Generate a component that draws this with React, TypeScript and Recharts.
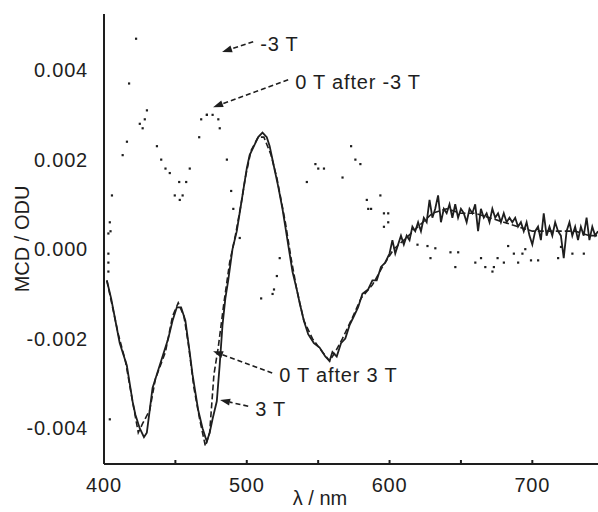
import React from "react";
import { ComposedChart, Line, Scatter, XAxis, YAxis, ReferenceLine } from "recharts";

// wavelength (nm), MCD (ODU)
const threeT: [number, number][] = [
  [402, -0.0007], [405, -0.0011], [408, -0.0016], [411, -0.0021], [414, -0.0024], [416, -0.0026],
  [418, -0.003], [420, -0.0034], [422, -0.0037], [425, -0.004], [428, -0.0042], [430, -0.0041],
  [432, -0.0036], [434, -0.0031], [437, -0.0028], [441, -0.0024], [445, -0.002], [448, -0.0016],
  [451, -0.0013], [454, -0.0013], [457, -0.0016], [460, -0.0023], [462, -0.0028], [464, -0.0032],
  [466, -0.0036], [469, -0.004], [472, -0.0043], [474, -0.0041], [476, -0.0038], [479, -0.0034],
  [481, -0.0026], [483, -0.0017], [485, -0.0011], [487, -0.0007], [490, 0.0], [493, 0.0004],
  [495, 0.0008], [497, 0.0012], [500, 0.0018], [502, 0.0021], [505, 0.0023], [508, 0.0025],
  [511, 0.0026], [514, 0.0025], [516, 0.0023], [518, 0.002], [520, 0.0017], [522, 0.0014],
  [525, 0.0009], [527, 0.0005], [529, 0.0001], [532, -0.0005], [535, -0.0009], [537, -0.0012],
  [540, -0.0016], [543, -0.0019], [547, -0.0021], [551, -0.0022], [555, -0.0024], [558, -0.0025],
  [560, -0.0023], [563, -0.0024], [566, -0.0021], [569, -0.002], [572, -0.0017], [575, -0.0015],
  [578, -0.0013], [581, -0.001], [585, -0.0009], [588, -0.0007], [591, -0.0007], [594, -0.0004],
  [597, -0.0003], [600, -0.0001], [602, 0.0002], [604, -0.0001], [606, 0.0001], [608, 0.0003],
  [610, 0.0001], [612, 0.0003], [614, 0.0002], [616, 0.0005], [618, 0.0004], [620, 0.0006],
  [622, 0.0004], [624, 0.0007], [626, 0.0006], [628, 0.0011], [630, 0.0007], [632, 0.0009],
  [634, 0.0012], [636, 0.0006], [638, 0.0009], [640, 0.0008], [642, 0.001], [644, 0.0007],
  [646, 0.001], [648, 0.0007], [650, 0.0009], [652, 0.0008], [654, 0.0006], [656, 0.0009],
  [658, 0.0008], [660, 0.001], [662, 0.0004], [664, 0.0009], [666, 0.0007], [668, 0.0008],
  [670, 0.0006], [672, 0.0009], [674, 0.0007], [676, 0.0008], [678, 0.0006], [680, 0.0008],
  [682, 0.0006], [684, 0.0007], [686, 0.0006], [688, 0.0007], [690, 0.0005], [692, 0.0006],
  [694, 0.0004], [696, 0.0006], [698, 0.0003], [700, 0.0001], [702, 0.0004], [704, 0.0005],
  [706, 0.0002], [708, 0.0008], [710, 0.0003], [712, 0.0005], [714, 0.0003], [716, 0.0006],
  [718, 0.0004], [720, 0.0003], [722, -0.0002], [724, 0.0004], [726, 0.0006], [728, 0.0003],
  [730, 0.0005], [732, 0.0002], [734, 0.0005], [736, 0.0003], [738, 0.0007], [740, 0.0002],
  [742, 0.0005], [744, 0.0003], [746, 0.0004],
];

const zeroAfter3T: [number, number][] = [
  [402, -0.0007], [406, -0.0013], [410, -0.0019], [415, -0.0025], [420, -0.0034], [424, -0.0041],
  [427, -0.0039], [432, -0.0036], [436, -0.0029], [443, -0.0023], [448, -0.0015], [452, -0.0012],
  [456, -0.0015], [459, -0.0021], [463, -0.0031], [467, -0.0038], [471, -0.0044], [474, -0.0041],
  [477, -0.0028], [480, -0.0022], [484, -0.0012], [488, -0.0003], [492, 0.0003], [496, 0.001],
  [499, 0.0016], [503, 0.0022], [508, 0.0025], [512, 0.0025], [517, 0.0021], [521, 0.0016],
  [524, 0.0011], [527, 0.0006], [531, -0.0002], [535, -0.0009], [540, -0.0016], [546, -0.002],
  [553, -0.0023], [558, -0.0025], [562, -0.0023], [567, -0.002], [573, -0.0016], [580, -0.0011],
  [588, -0.0008], [595, -0.0004], [603, 0.0], [610, 0.0002], [620, 0.0005], [630, 0.0008],
  [640, 0.0009], [650, 0.0008], [660, 0.0008], [670, 0.0007], [680, 0.0006], [690, 0.0005],
  [700, 0.0004], [710, 0.0004], [720, 0.0004], [730, 0.0004], [740, 0.0003], [746, 0.0003],
];

const minus3T: [number, number][] = [
  [405.5, 0.0012], [417.5, 0.0037], [422.4, 0.0047], [430, 0.0031], [437, 0.0023], [443, 0.0018],
  [452.6, 0.0015], [460, 0.0018], [466.6, 0.0025], [472, 0.003], [481, 0.0027], [489, 0.0013],
  [542, 0.0015], [548, 0.0019], [550, 0.0018], [554, 0.0018], [573, 0.0023], [576, 0.002],
  [579.5, 0.0019], [593.5, 0.0012],
];

const zeroAfterMinus3T: [number, number][] = [
  [403, 0.00035], [403, -0.0001], [403, -0.0003], [403, -0.0005], [404, 0.0006], [404.5, 0.0004],
  [404, -0.0038], [413, 0.0021], [416, 0.0024], [425, 0.0028], [428.5, 0.0029], [427, 0.0027],
  [440, 0.002], [446, 0.0017], [449.5, 0.0012], [453, 0.0011], [455, 0.0012], [457.5, 0.0015],
  [468, 0.0029], [472, 0.003], [476, 0.003], [480, 0.0029], [486, 0.002], [490.5, 0.0009],
  [495, 0.00025], [510, -0.0011], [518, -0.001], [519, -0.0009], [521, -0.0006], [523, -0.0002],
  [567, 0.0016], [584, 0.0011], [585, 0.0009], [587, 0.0009], [596, 0.0008], [599, 0.0008],
  [599, 0.0006], [596, 0.0005], [619.5, 0.0001], [626.5, 0.00007], [628.6, -0.0002], [632, 0.00002],
  [642.6, -0.00007], [646, -0.0004], [648, -0.00007], [660, -0.0003], [664, -0.0002], [667, -0.0004],
  [672, -0.0005], [673, -0.0004], [675.6, -0.0002], [680, -0.0003], [683, 0.00007], [687, -0.0001],
  [690, -0.0003], [693, -0.0001], [695, 0.0], [699, -0.00025], [704, -0.00025], [718, -0.0002],
  [720, 0.00005], [728, -0.0001], [736, -0.0001],
];

const xTicks = [400, 450, 500, 550, 600, 650, 700];
const yTicks = [-0.004, -0.002, 0, 0.002, 0.004];

// annotation arrows: text, tail (x, y), tip (x, y)
const notes: { text: string; from: [number, number]; to: [number, number] }[] = [
  { text: "-3 T", from: [504.5, 0.00463], to: [482.7, 0.0044] },
  { text: "0 T after -3 T", from: [529, 0.00378], to: [476.4, 0.00317] },
  { text: "0 T after 3 T", from: [517.8, -0.00277], to: [476.4, -0.00228] },
  { text: "3 T", from: [501, -0.00351], to: [481.3, -0.00337] },
];

const toPts = (arr: [number, number][]) => arr.map(([x, y]) => ({ x, y }));

const FONT = "'Liberation Sans', Arial, sans-serif";
const INK = "#1e1e1e";

const Dot = (props: any) => {
  const { cx, cy } = props;
  if (cx == null || cy == null) return null;
  return <rect x={cx - 1} y={cy - 1} width={2.2} height={2.2} fill={INK} />;
};

const arrowShape = (text: string) => (props: any) => {
  const { x1, y1, x2, y2 } = props;
  const dx = x2 - x1;
  const dy = y2 - y1;
  const len = Math.sqrt(dx * dx + dy * dy) || 1;
  const ux = dx / len;
  const uy = dy / len;
  const hl = 10;
  const hw = 3.5;
  const bx = x2 - ux * hl;
  const by = y2 - uy * hl;
  return (
    <g>
      <line x1={x1} y1={y1} x2={bx} y2={by} stroke={INK} strokeWidth={1.6} strokeDasharray="5 3" />
      <polygon
        points={`${x2},${y2} ${bx - uy * hw},${by + ux * hw} ${bx + uy * hw},${by - ux * hw}`}
        fill={INK}
      />
      <text x={x1 + 7} y={y1 + 4} dominantBaseline="middle" fontSize={20} fontFamily={FONT} fill={INK} letterSpacing={0.8}>
        {text}
      </text>
    </g>
  );
};

export default function App() {
  return (
    <div style={{ position: "absolute", left: 0, top: 0, width: 598, height: 512, background: "#fff" }}>
      <ComposedChart width={598} height={512} margin={{ top: 14, right: 0, left: 0, bottom: 0 }}>
        <XAxis
          type="number"
          dataKey="x"
          domain={[400, 746]}
          ticks={xTicks}
          allowDataOverflow
          height={48}
          stroke={INK}
          strokeWidth={2}
          tickSize={-4}
          tickMargin={18}
          tickFormatter={(v: number) => (v % 100 === 0 ? String(v) : "")}
          tick={{ fontSize: 20, fontFamily: FONT, fill: INK, letterSpacing: 0.8 }}
          label={{ value: "λ / nm", position: "insideBottom", offset: 7, dx: -31, fontSize: 20, fontFamily: FONT, fill: INK }}
        />
        <YAxis
          type="number"
          dataKey="y"
          domain={[-0.0048, 0.00525]}
          ticks={yTicks}
          allowDataOverflow
          width={104}
          stroke={INK}
          strokeWidth={2}
          tickSize={0}
          tickMargin={16}
          tickFormatter={(v: number) => v.toFixed(3)}
          tick={{ fontSize: 20, fontFamily: FONT, fill: INK, letterSpacing: 0.8 }}
          label={{ value: "MCD / ODU", angle: -90, position: "center", dx: -30, fontSize: 20, fontFamily: FONT, fill: INK }}
        />
        <Scatter name="-3 T" data={toPts(minus3T)} shape={<Dot />} isAnimationActive={false} />
        <Scatter name="0 T after -3 T" data={toPts(zeroAfterMinus3T)} shape={<Dot />} isAnimationActive={false} />
        <Line
          name="0 T after 3 T"
          data={toPts(zeroAfter3T)}
          dataKey="y"
          type="linear"
          stroke={INK}
          strokeWidth={1.6}
          strokeDasharray="6 3"
          dot={false}
          isAnimationActive={false}
        />
        <Line
          name="3 T"
          data={toPts(threeT)}
          dataKey="y"
          type="linear"
          stroke={INK}
          strokeWidth={1.8}
          dot={false}
          isAnimationActive={false}
        />
        {notes.map((n) => (
          <ReferenceLine
            key={n.text}
            segment={[{ x: n.from[0], y: n.from[1] }, { x: n.to[0], y: n.to[1] }]}
            shape={arrowShape(n.text)}
            ifOverflow="visible"
          />
        ))}
      </ComposedChart>
    </div>
  );
}
